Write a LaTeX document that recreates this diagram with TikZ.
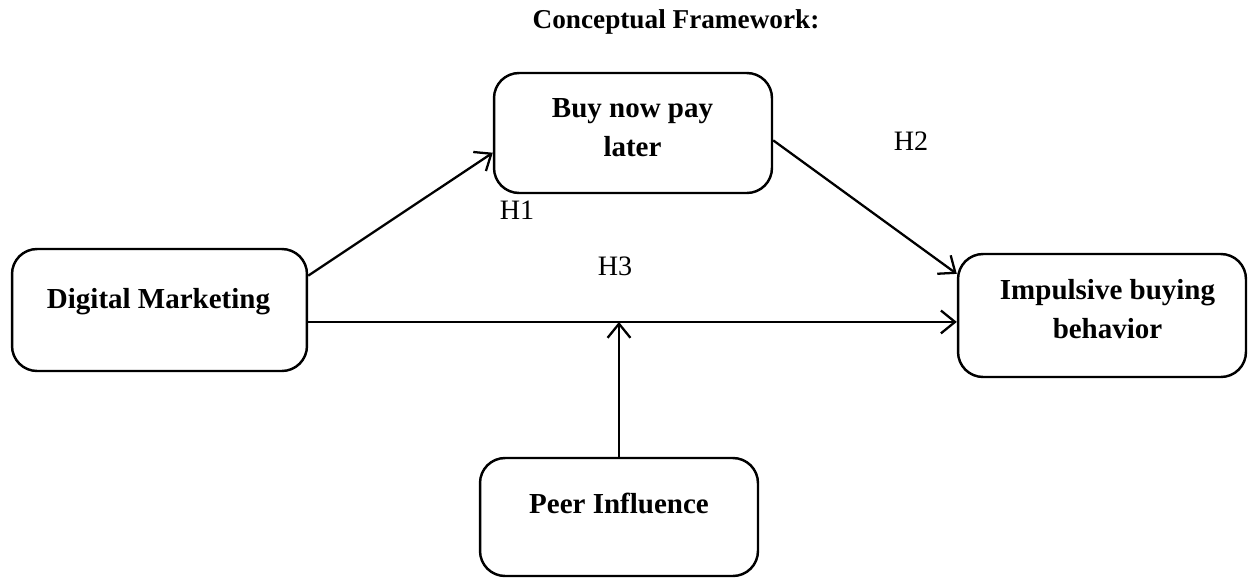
\documentclass[tikz,border=0pt]{standalone}
\usepackage{fontspec}
\setmainfont{Liberation Serif}
\usetikzlibrary{arrows.meta}
\tikzset{
  box/.style={draw, line width=1.4pt, rounded corners=0.5cm, inner sep=0pt},
  boxtext/.style={font=\bfseries\fontsize{16.5}{22}\selectfont, align=center, inner sep=0pt, anchor=base},
  hyp/.style={font=\fontsize{16}{19}\selectfont, inner sep=0pt},
  arr/.style={line width=1.3pt, -{Straight Barb[length=8pt,width=13pt,line width=1.3pt]}},
  conn/.style={line width=1.3pt}
}
\begin{document}
\begin{tikzpicture}[x=0.02cm,y=-0.02cm]
\useasboundingbox (0,0) rectangle (1248,578);
\node[font=\bfseries\fontsize{15.5}{19}\selectfont, inner sep=0pt] (title) at (676,22) {Conceptual Framework:};
\node[box, minimum width=5.9cm, minimum height=2.44cm] (dm) at (159.5,310) {};
\node[box, minimum width=5.56cm, minimum height=2.4cm] (bnpl) at (633,133) {};
\node[box, minimum width=5.76cm, minimum height=2.46cm] (imp) at (1102,315.5) {};
\node[box, minimum width=5.56cm, minimum height=2.36cm] (peer) at (619,517) {};
\node[boxtext] (dmt) at (158.5,308) {Digital Marketing};
\node[boxtext] (bnplt) at (632.5,156) {Buy now pay\\later};
\node[boxtext] (impt) at (1107.5,338) {Impulsive buying\\behavior};
\node[boxtext] (peert) at (619,513) {Peer Influence};
\node[hyp] (h1) at (517,210) {H1};
\node[hyp] (h2) at (911,141) {H2};
\node[hyp] (h3) at (615,266) {H3};
\draw[arr] (dm.13) -- (bnpl.188);
\draw[arr] (bnpl.-3) -- (imp.164);
\coordinate (a) at ([yshift=-6.8pt]dm.east);
\draw[arr] (a) -- (a -| imp.west);
\draw[arr] (peer.north) -- (peer.north |- a);
\end{tikzpicture}
\end{document}
